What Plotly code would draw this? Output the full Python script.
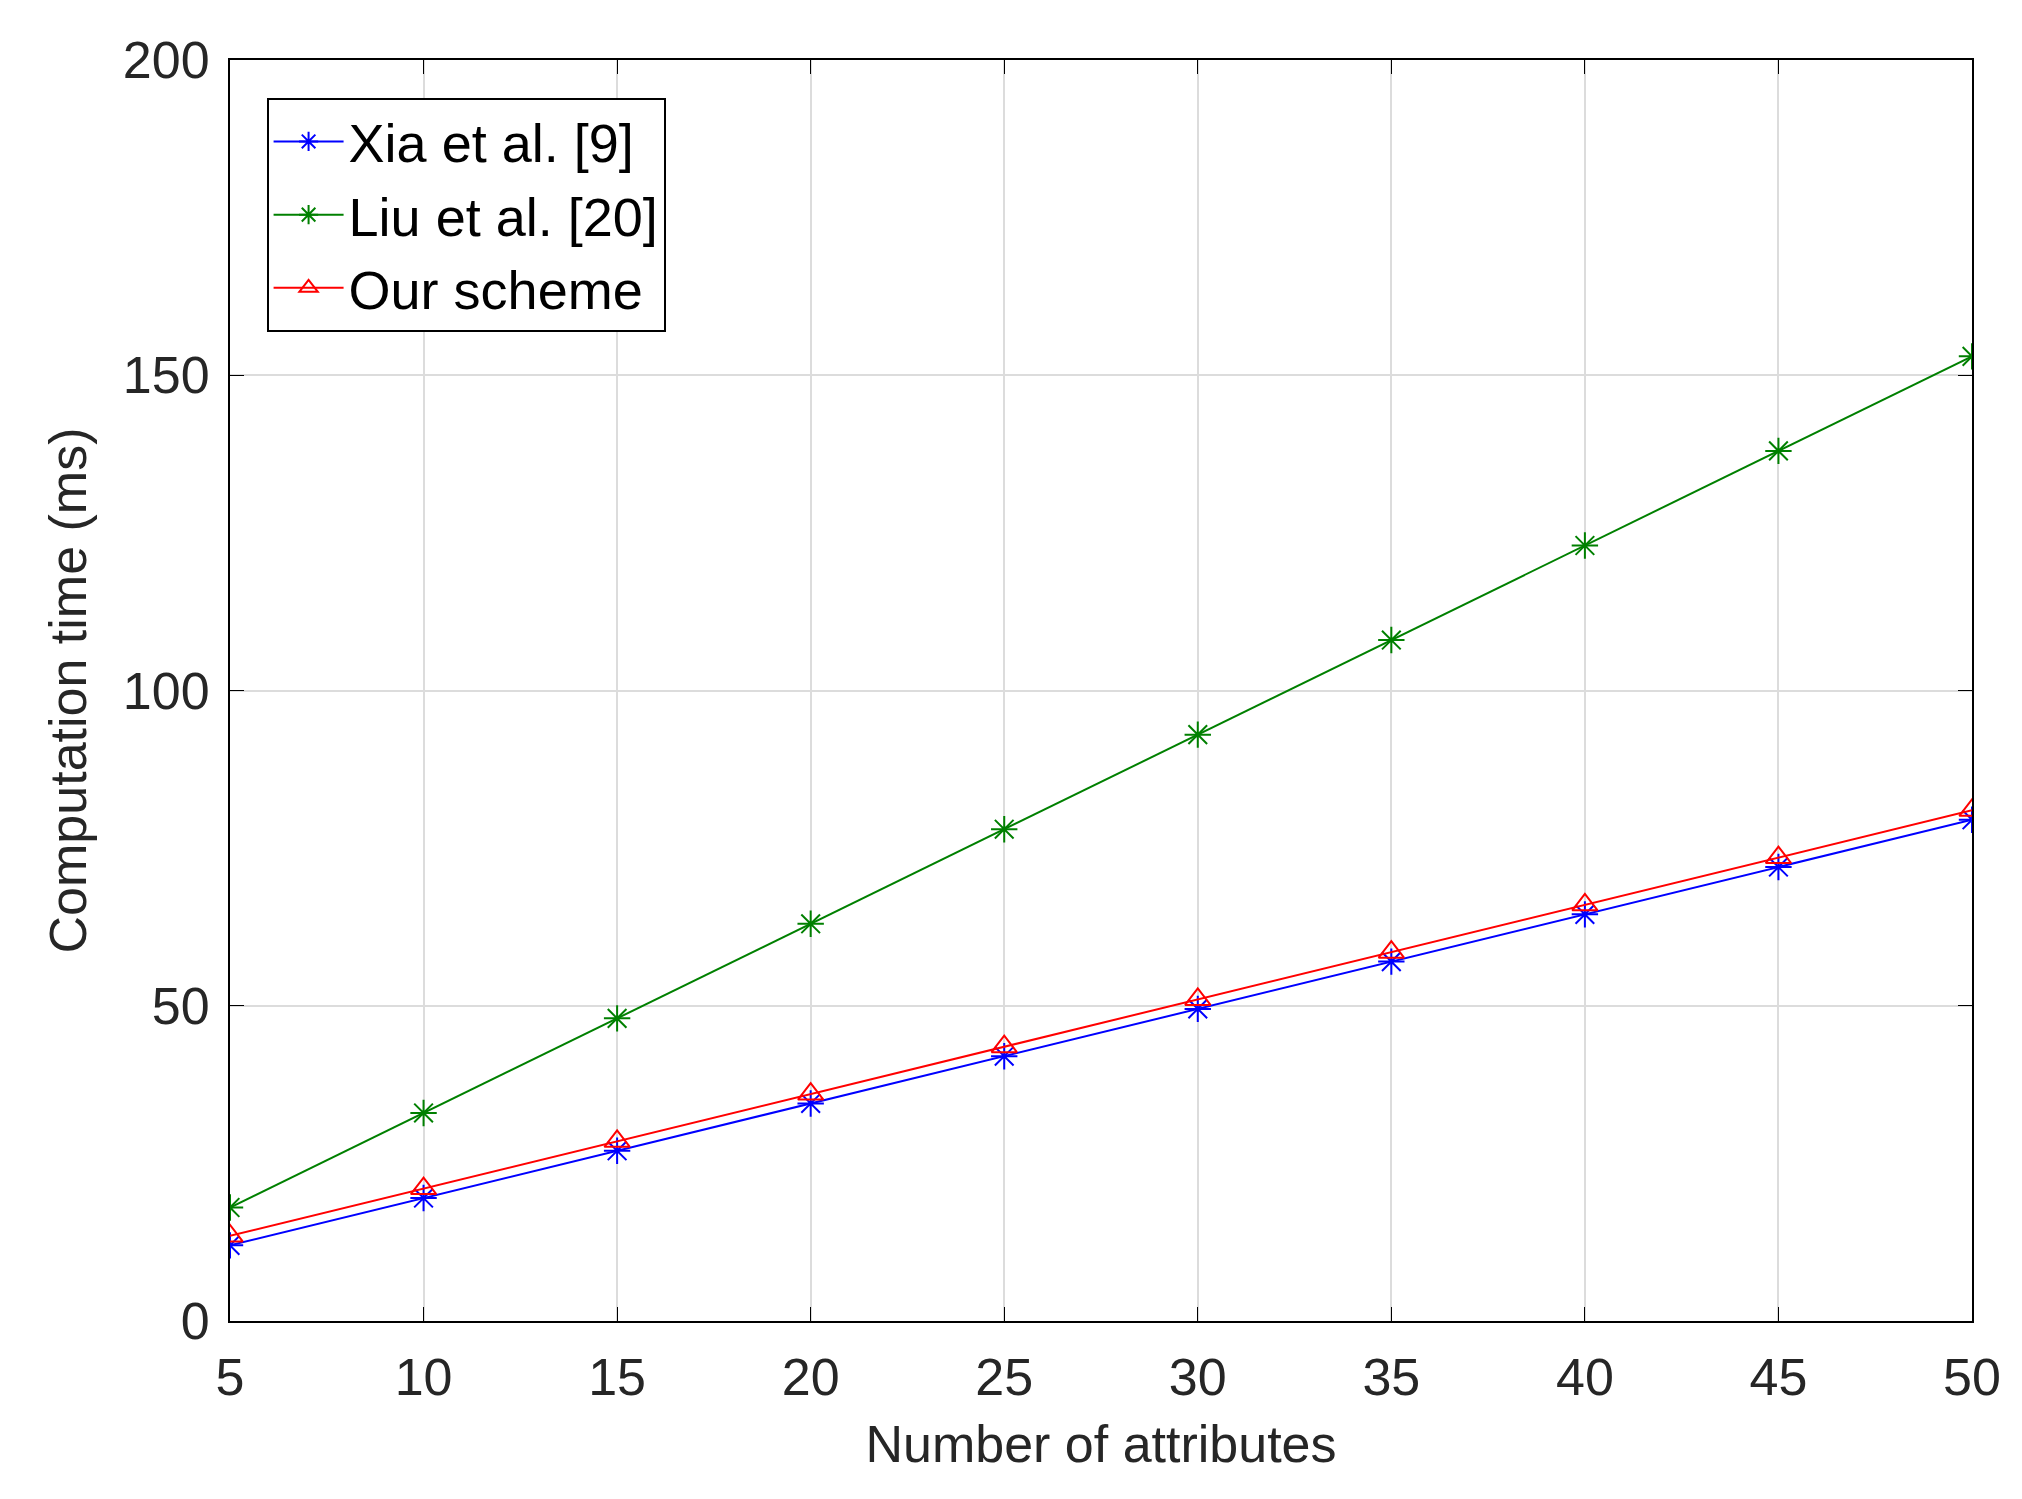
import plotly.graph_objects as go

attrs = [5, 10, 15, 20, 25, 30, 35, 40, 45, 50]
xia = [12, 19.5, 27, 34.5, 42, 49.5, 57, 64.5, 72, 79.5]
liu = [18, 33, 48, 63, 78, 93, 108, 123, 138, 153]
ours = [13.5, 21, 28.5, 36, 43.5, 51, 58.5, 66, 73.5, 81]

fig = go.Figure()
series = [
    ('Xia et al. [9]', xia, '#0000ff', 'asterisk-open'),
    ('Liu et al. [20]', liu, '#008000', 'asterisk-open'),
    ('Our scheme', ours, '#ff0000', 'triangle-up-open'),
]
for name, vals, col, sym in series:
    fig.add_trace(go.Scatter(x=attrs, y=vals, name=name, mode='lines+markers',
                             line=dict(color=col, width=2),
                             marker=dict(symbol=sym, size=22, color=col, line=dict(width=2, color=col))))

axis_common = dict(showgrid=True, gridcolor='#dcdcdc', gridwidth=1.5, showline=True, linecolor='black',
                   linewidth=2, mirror='ticks', ticks='inside', ticklen=14, tickcolor='black',
                   zeroline=False, tickfont=dict(size=52, color='#262626'))
fig.update_xaxes(range=[5, 50], dtick=5, ticklabelstandoff=10,
                 title=dict(text='Number of attributes', font=dict(size=52, color='#262626'), standoff=20),
                 **axis_common)
fig.update_yaxes(range=[0, 200], dtick=50, ticklabelstandoff=8,
                 title=dict(text='Computation time (ms)', font=dict(size=52, color='#262626'), standoff=20),
                 **axis_common)

fig.update_layout(
    width=2022, height=1499,
    margin=dict(l=222, r=58, t=52, b=186),
    plot_bgcolor='white', paper_bgcolor='white',
    font=dict(family='Liberation Sans, Arial', color='#262626'),
    legend=dict(x=0.021, y=0.97, xanchor='left', yanchor='top', bgcolor='white',
                bordercolor='black', borderwidth=2, font=dict(size=54, color='black'),
                itemwidth=70, tracegroupgap=10),
)
fig.write_html("out.html")
